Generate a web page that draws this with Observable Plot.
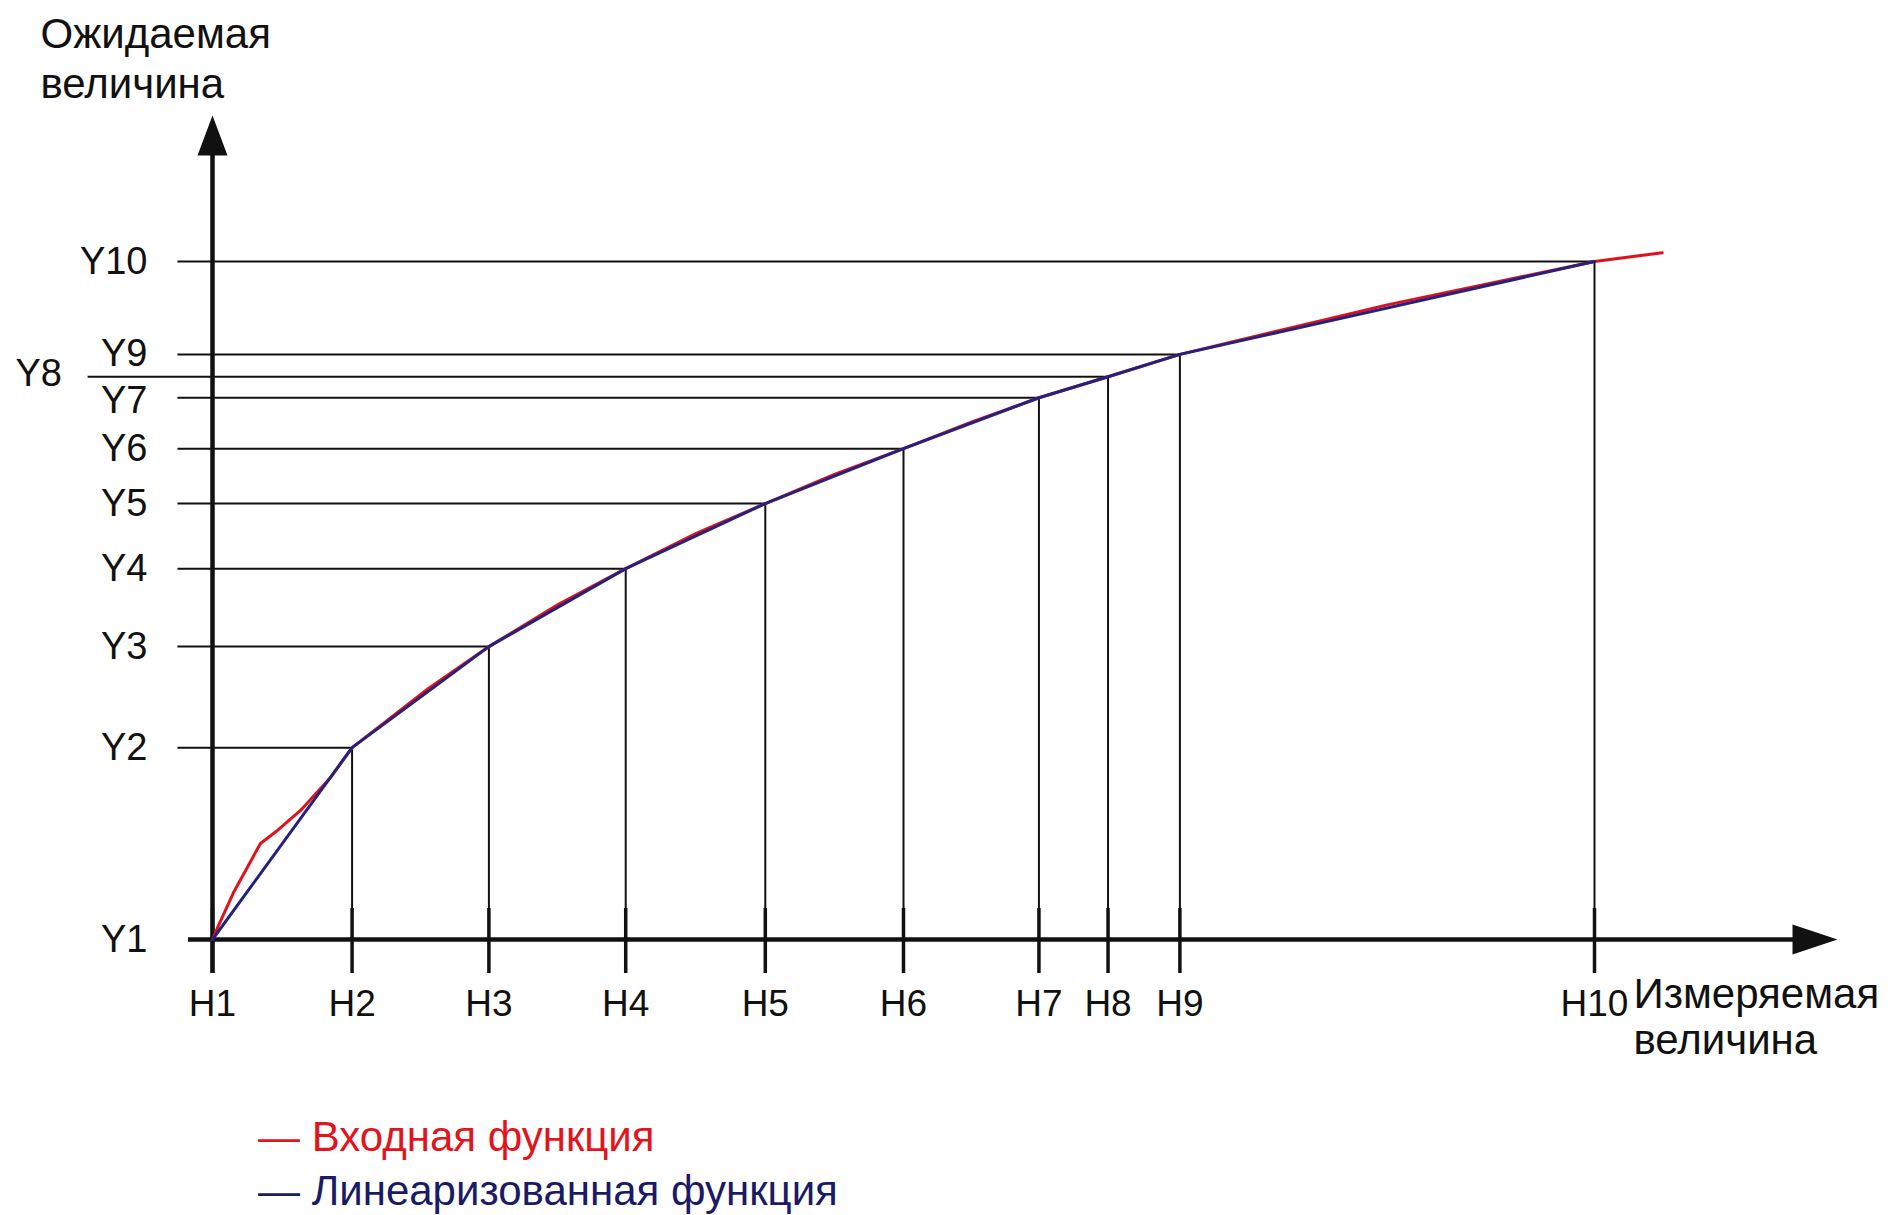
<!DOCTYPE html>
<html><head><meta charset="utf-8">
<script src="https://cdn.jsdelivr.net/npm/d3@7"></script>
<script src="https://cdn.jsdelivr.net/npm/@observablehq/plot@0.6"></script>
<style>
html,body{margin:0;padding:0;background:#fff;}
#wrap{position:relative;width:1892px;height:1215px;overflow:hidden;font-family:"Liberation Sans",Arial,sans-serif;}
.leg{position:absolute;left:258px;font-size:42px;white-space:nowrap;line-height:1;}
</style></head><body>
<div id="wrap"><div id="chart"></div>
<div class="leg" id="leg1" style="top:1116px;color:#e3141c;">— Входная функция</div>
<div class="leg" id="leg2" style="top:1170px;color:#1a1a66;">— Линеаризованная функция</div>
</div>
<script>
// Measured (H) breakpoints and expected (Y) values
const hLabels = ["H1","H2","H3","H4","H5","H6","H7","H8","H9","H10"];
const hValues = [0, 10.1, 20, 29.9, 40, 50, 59.8, 64.8, 70, 100];
const yLabels = ["Y1","Y2","Y3","Y4","Y5","Y6","Y7","Y8","Y9","Y10"];
const yValues = [0, 28.3, 43.2, 54.7, 64.3, 72.4, 79.9, 83.0, 86.3, 100];
// Input function (red) sampled points
const inputX = [0, 0.43, 1.52, 3.47, 4.70, 6.37, 8.54, 10.1, 15.6, 20, 25, 29.9, 35, 40, 45, 50, 54.9, 59.8, 64.8, 70, 85, 100, 104.9];
const inputY = [0, 2.06, 6.93, 14.16, 16.08, 19.03, 23.89, 28.3, 37.0, 43.2, 49.4, 54.7, 59.9, 64.3, 68.6, 72.4, 76.3, 79.9, 83.0, 86.3, 93.6, 100, 101.3];
const yTitle = "Ожидаемая\nвеличина";
const xTitle = "Измеряемая\nвеличина";

const nodes = hLabels.map((hl, i) => ({hl, h: hValues[i], yl: yLabels[i], y: yValues[i]}));
const inputCurve = inputX.map((x, i) => ({x, y: inputY[i]}));

const RED = "#e3101c", BLUE = "#23237f", INK = "#111";
const arrowUp = {draw(ctx){ ctx.moveTo(0,0); ctx.lineTo(15,40); ctx.lineTo(-15,40); ctx.closePath(); }};
const arrowRight = {draw(ctx){ ctx.moveTo(0,0); ctx.lineTo(-45,-15); ctx.lineTo(-45,15); ctx.closePath(); }};

const grid = nodes.slice(1);
const yLabText = (filter, dx, dy, anchor) => Plot.text(nodes.filter(filter), {x: 0, y: "y", text: "yl", dx, dy, textAnchor: anchor, fontSize: 38, fill: INK});
const chart = Plot.plot({
  width: 1892, height: 1100,
  marginLeft: 212, marginRight: 298, marginTop: 261, marginBottom: 161,
  x: {domain: [0, 100], axis: null},
  y: {domain: [0, 100], axis: null},
  style: {fontFamily: '"Liberation Sans", Arial, sans-serif', background: "#fff", overflow: "visible", color: INK},
  marks: [
    Plot.ruleY(grid, {y: "y", x1: d => d.yl === "Y8" ? -9.0 : -2.5, x2: "h", stroke: INK, strokeWidth: 2}),
    Plot.ruleX(grid, {x: "h", y1: 0, y2: "y", stroke: INK, strokeWidth: 2}),
    Plot.ruleX(nodes, {x: "h", y1: 0, y2: 0, insetTop: -31, insetBottom: -34, stroke: INK, strokeWidth: 3.5}),
    Plot.ruleX([0], {insetTop: -111, insetBottom: -34, stroke: INK, strokeWidth: 4.5}),
    Plot.ruleY([0], {insetLeft: -24, insetRight: -201, stroke: INK, strokeWidth: 4.5}),
    Plot.dot([0], {frameAnchor: "top-left", dy: -146, symbol: arrowUp, r: 10, fill: INK, stroke: "none"}),
    Plot.dot([0], {frameAnchor: "bottom-right", dx: 243, symbol: arrowRight, r: 10, fill: INK, stroke: "none"}),
    Plot.line(inputCurve, {x: "x", y: "y", stroke: RED, strokeWidth: 3}),
    Plot.line(nodes, {x: "h", y: "y", stroke: BLUE, strokeWidth: 3}),
    yLabText(d => !["Y7", "Y8", "Y9"].includes(d.yl), -65, 0, "end"),
    yLabText(d => d.yl === "Y7", -65, 3, "end"),
    yLabText(d => d.yl === "Y9", -65, -1, "end"),
    yLabText(d => d.yl === "Y8", -197, -3, "start"),
    Plot.text(nodes, {x: "h", y: 0, text: "hl", dy: 76, lineAnchor: "bottom", fontSize: 37, fill: INK}),
    Plot.text([yTitle], {frameAnchor: "top-left", text: d => d, dx: -172, dy: -164, textAnchor: "start", lineAnchor: "bottom", lineHeight: 1.17, fontSize: 42, fill: INK}),
    Plot.text([xTitle], {frameAnchor: "bottom-right", text: d => d, dx: 39, dy: 114, textAnchor: "start", lineAnchor: "bottom", lineHeight: 1.08, fontSize: 42, fill: INK})
  ]
});
document.getElementById("chart").appendChild(chart);
</script>
</body></html>
